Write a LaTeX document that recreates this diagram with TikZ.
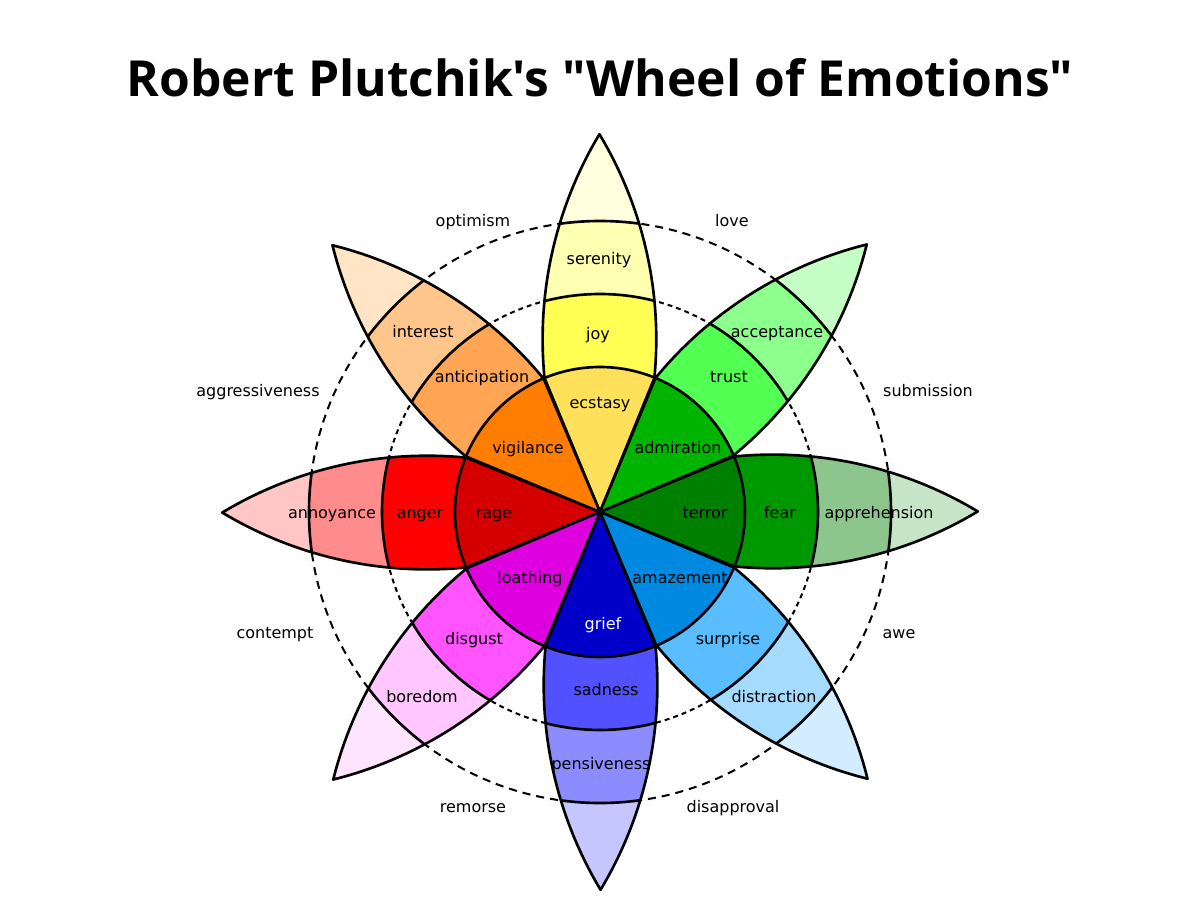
\documentclass[tikz,border=0pt]{standalone}
\usepackage{fontspec}
\setmainfont{DejaVu Sans}
\newfontfamily\titlefont{Open Sans}
\definecolor{ecstasy}{RGB}{255,224,90}
\definecolor{joy}{RGB}{255,255,84}
\definecolor{serenity}{RGB}{255,255,177}
\definecolor{joytip}{RGB}{255,255,222}
\definecolor{admiration}{RGB}{0,180,0}
\definecolor{trust}{RGB}{84,255,84}
\definecolor{acceptance}{RGB}{140,255,140}
\definecolor{trusttip}{RGB}{198,255,198}
\definecolor{terror}{RGB}{0,128,0}
\definecolor{fear}{RGB}{0,152,0}
\definecolor{apprehension}{RGB}{140,198,140}
\definecolor{feartip}{RGB}{198,228,198}
\definecolor{amazement}{RGB}{0,137,224}
\definecolor{surprise}{RGB}{89,189,255}
\definecolor{distraction}{RGB}{165,219,255}
\definecolor{surprisetip}{RGB}{212,236,255}
\definecolor{grief}{RGB}{0,0,200}
\definecolor{sadness}{RGB}{81,81,255}
\definecolor{pensiveness}{RGB}{140,140,255}
\definecolor{sadnesstip}{RGB}{198,198,255}
\definecolor{loathing}{RGB}{222,0,222}
\definecolor{disgust}{RGB}{255,84,255}
\definecolor{boredom}{RGB}{255,198,255}
\definecolor{disgusttip}{RGB}{255,228,255}
\definecolor{rage}{RGB}{212,0,0}
\definecolor{anger}{RGB}{255,0,0}
\definecolor{annoyance}{RGB}{255,140,140}
\definecolor{angertip}{RGB}{255,198,198}
\definecolor{vigilance}{RGB}{255,125,0}
\definecolor{anticipation}{RGB}{255,165,84}
\definecolor{interest}{RGB}{255,198,140}
\definecolor{anticipationtip}{RGB}{255,228,198}

\tikzset{
  emo/.style={font=\fontsize{9.1}{11}\selectfont, text height=.76em, text depth=.24em, inner sep=0pt, yshift=-1.1pt},
  petalline/.style={line width=1.5pt, line join=round},
}

\begin{document}
\begin{tikzpicture}[x=0.02cm, y=0.02cm]
\useasboundingbox (-600,-388) rectangle (600,512);

\draw[line width=1.15pt, dash pattern=on 2.8pt off 2.3pt] (0,0) circle (218);
\draw[line width=1.15pt, dash pattern=on 4.6pt off 3.4pt] (0,0) circle (291);

\foreach \a/\ca/\cb/\cc/\cd in {90/ecstasy/joy/serenity/joytip, 45/admiration/trust/acceptance/trusttip,
  0/terror/fear/apprehension/feartip, -45/amazement/surprise/distraction/surprisetip,
  -90/grief/sadness/pensiveness/sadnesstip, -135/loathing/disgust/boredom/disgusttip,
  180/rage/anger/annoyance/angertip, 135/vigilance/anticipation/interest/anticipationtip}{
\begin{scope}[rotate=\a]
\begin{scope}
\clip (0,0) -- (22.5:145) arc[start angle=95.6, end angle=59, radius=398]
  arc[start angle=-59, end angle=-95.6, radius=398] -- cycle;
\fill[\cd] (0,0) circle (400);
\fill[\cc] (0,0) circle (291);
\fill[\cb] (0,0) circle (218);
\fill[\ca] (0,0) circle (145);
\draw[petalline] (0,0) circle (145) (0,0) circle (218) (0,0) circle (291);
\end{scope}
\draw[petalline] (0,0) -- (22.5:145) arc[start angle=95.6, end angle=59, radius=398]
  arc[start angle=-59, end angle=-95.6, radius=398] -- cycle;
\end{scope}
}

\node[font=\titlefont\bfseries\fontsize{28.3}{34}\selectfont, anchor=base] (title) at (0,415) {Robert Plutchik's "Wheel of Emotions"};

\node[emo] (serenity) at (-1,254) {serenity};
\node[emo] (joy) at (-2,179) {joy};
\node[emo] (ecstasy) at (0,110) {ecstasy};
\node[emo] (acceptance) at (177,181) {acceptance};
\node[emo] (trust) at (129,136) {trust};
\node[emo] (admiration) at (78,65) {admiration};
\node[emo] (apprehension) at (279,0) {apprehension};
\node[emo] (fear) at (180,0) {fear};
\node[emo] (terror) at (105,0) {terror};
\node[emo] (distraction) at (174,-184) {distraction};
\node[emo] (surprise) at (128,-126) {surprise};
\node[emo] (amazement) at (80,-65) {amazement};
\node[emo] (pensiveness) at (1,-251) {pensiveness};
\node[emo] (sadness) at (6,-177) {sadness};
\node[emo, white] (grief) at (3,-111) {grief};
\node[emo] (boredom) at (-178,-184) {boredom};
\node[emo] (disgust) at (-126,-126) {disgust};
\node[emo] (loathing) at (-70,-65) {loathing};
\node[emo] (annoyance) at (-268,0) {annoyance};
\node[emo] (anger) at (-180,0) {anger};
\node[emo] (rage) at (-106,0) {rage};
\node[emo] (interest) at (-177,181) {interest};
\node[emo] (anticipation) at (-118,136) {anticipation};
\node[emo] (vigilance) at (-72,65) {vigilance};

\node[emo] (optimism) at (-127,292) {optimism};
\node[emo] (love) at (132,292) {love};
\node[emo] (submission) at (328,122) {submission};
\node[emo] (awe) at (299,-120) {awe};
\node[emo] (disapproval) at (133,-294) {disapproval};
\node[emo] (remorse) at (-127,-294) {remorse};
\node[emo] (contempt) at (-325,-120) {contempt};
\node[emo] (aggressiveness) at (-342,122) {aggressiveness};
\end{tikzpicture}
\end{document}
